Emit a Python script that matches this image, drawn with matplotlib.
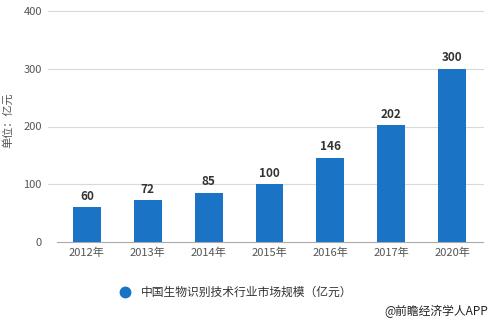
import matplotlib
matplotlib.use("Agg")
import matplotlib.pyplot as plt

plt.rcParams["font.family"] = ["Noto Sans CJK SC", "DejaVu Sans"]

# Data
years = ["2012年", "2013年", "2014年", "2015年", "2016年", "2017年", "2020年"]
values = [60, 72, 85, 100, 146, 202, 300]
yticks = [0, 100, 200, 300, 400]

bar_color = "#1a73c4"

fig = plt.figure(figsize=(4.91, 3.23), dpi=100)
ax = fig.add_axes([56.5 / 491, 81 / 323, 426 / 491, 231 / 323])

x = range(len(years))
ax.bar(x, values, width=0.46, color=bar_color, zorder=3)
for xi, v in zip(x, values):
    ax.text(xi, v + 8, str(v), ha="center", va="bottom", fontsize=8.5,
            fontweight="bold", color="#333333")

ax.set_xlim(-0.5, len(years) - 0.5)
ax.set_ylim(0, 400)
ax.set_yticks(yticks)
ax.set_xticks(list(x))
ax.set_xticklabels(years)
ax.tick_params(axis="both", labelsize=8, labelcolor="#555555", length=0)
ax.tick_params(axis="x", pad=4)
ax.tick_params(axis="y", pad=10.5)

# gridlines reach a bit left of the plot area
for t in yticks[1:]:
    ax.axhline(t, xmin=-0.02, xmax=1, color="#d9d9d9", linewidth=0.8,
               zorder=0, clip_on=False)
for s in ["top", "right", "left"]:
    ax.spines[s].set_visible(False)
ax.spines["bottom"].set_color("#aaaaaa")

fig.text(8 / 491, 1 - 120 / 323, "单位：亿元", rotation=90, ha="center",
         va="center", fontsize=8, color="#555555")

# legend
fig.lines.append(plt.Line2D([125 / 491], [1 - 292 / 323], marker="o", markersize=7.5,
                            color=bar_color, transform=fig.transFigure))
fig.text(141 / 491, 1 - 292 / 323, "中国生物识别技术行业市场规模（亿元）", ha="left",
         va="center", fontsize=8.5, color="#333333")

fig.text(488 / 491, 1 - 311 / 323, "@前瞻经济学人APP", ha="right", va="center",
         fontsize=8.5, color="#222222")

fig.savefig("out.png", dpi=100)
